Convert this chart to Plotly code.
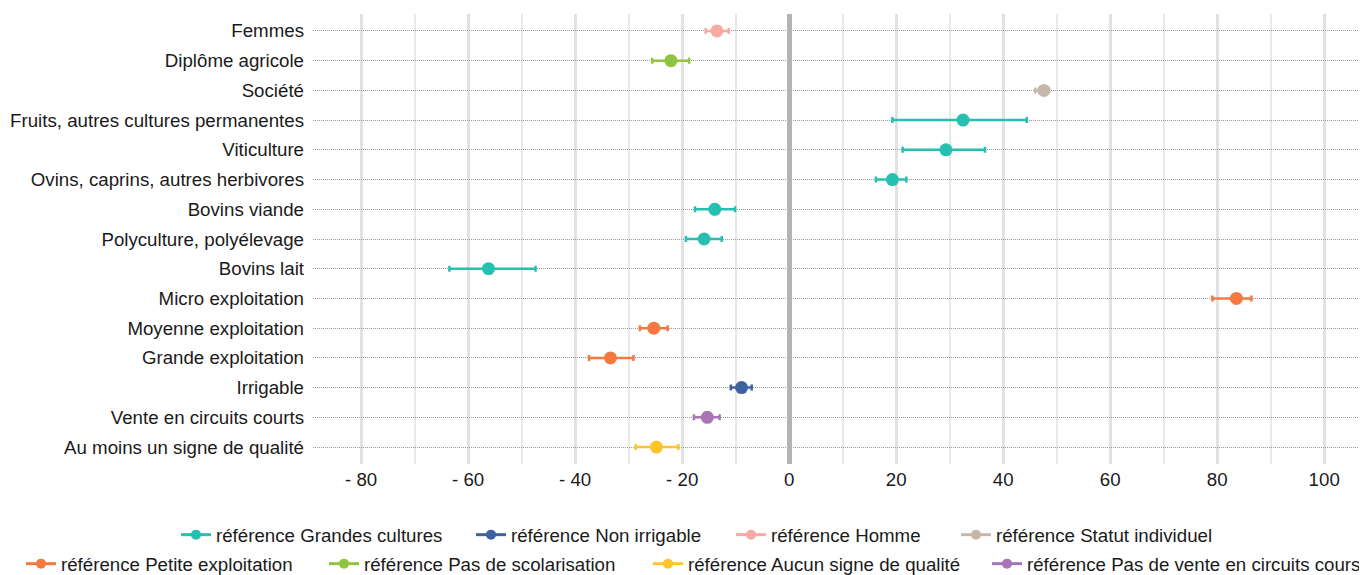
import plotly.graph_objects as go

categories = [
    "Femmes", "Diplôme agricole", "Société",
    "Fruits, autres cultures permanentes", "Viticulture",
    "Ovins, caprins, autres herbivores", "Bovins viande",
    "Polyculture, polyélevage", "Bovins lait", "Micro exploitation",
    "Moyenne exploitation", "Grande exploitation", "Irrigable",
    "Vente en circuits courts", "Au moins un signe de qualité",
]
values = [-13.5, -22.1, 47.6, 32.5, 29.3, 19.3, -13.9, -15.9, -56.2, 83.6,
          -25.3, -33.4, -8.9, -15.3, -24.8]
lower = [-15.6, -25.6, 46.0, 19.3, 21.2, 16.2, -17.6, -19.3, -63.5, 79.1,
         -27.9, -37.4, -10.9, -17.8, -28.7]
upper = [-11.3, -18.7, 48.6, 44.4, 36.6, 21.9, -10.1, -12.6, -47.4, 86.4,
         -22.7, -29.1, -7.0, -13.0, -20.7]
reference = [
    "Homme", "Pas de scolarisation", "Statut individuel",
    "Grandes cultures", "Grandes cultures", "Grandes cultures",
    "Grandes cultures", "Grandes cultures", "Grandes cultures",
    "Petite exploitation", "Petite exploitation", "Petite exploitation",
    "Non irrigable", "Pas de vente en circuits cours", "Aucun signe de qualité",
]
series_row1 = ["Grandes cultures", "Non irrigable", "Homme", "Statut individuel"]
series_row2 = ["Petite exploitation", "Pas de scolarisation",
               "Aucun signe de qualité", "Pas de vente en circuits cours"]
colors = {
    "Grandes cultures": "#27bfb0",
    "Non irrigable": "#3e62a0",
    "Homme": "#f8aaa2",
    "Statut individuel": "#c5b8ab",
    "Petite exploitation": "#f47940",
    "Pas de scolarisation": "#8ec43f",
    "Aucun signe de qualité": "#fdc52b",
    "Pas de vente en circuits cours": "#a875b5",
}
tick_vals = [-80, -60, -40, -20, 0, 20, 40, 60, 80, 100]
tick_text = ["- 80", "- 60", "- 40", "- 20", "0", "20", "40", "60", "80", "100"]

# the page body has an 8px margin, so the figure is drawn 8px in from the corner
OFF = 8
W, H = 1367 - OFF, 575 - OFF
FONT = "Liberation Sans, Arial, sans-serif"
FS = 18.7
fig = go.Figure()

for s in series_row1 + series_row2:
    idx = [i for i, r in enumerate(reference) if r == s]
    xs = [values[i] for i in idx]
    ys = [categories[i] for i in idx]
    plus = [upper[i] - values[i] for i in idx]
    minus = [values[i] - lower[i] for i in idx]
    fig.add_trace(go.Scatter(
        x=xs, y=ys, mode="markers", showlegend=False,
        marker=dict(color=colors[s], size=13),
        error_x=dict(type="data", symmetric=False, array=plus, arrayminus=minus,
                     color=colors[s], thickness=2.5, width=3),
        hoverinfo="x+y",
    ))

# legend entries: one legend per entry, laid out on two rows
legend_text_x_row1 = [216, 511, 771, 996]
legend_text_x_row2 = [61, 364, 688, 1027]
legend_layout = {}
k = 0
for names, xs_px, ypx in [(series_row1, legend_text_x_row1, 535),
                          (series_row2, legend_text_x_row2, 564)]:
    for s, tx in zip(names, xs_px):
        k += 1
        lname = "legend" if k == 1 else f"legend{k}"
        fig.add_trace(go.Scatter(
            x=[None], y=[None], mode="lines+markers", name="référence " + s,
            line=dict(color=colors[s], width=3), marker=dict(color=colors[s], size=10),
            legend=lname,
        ))
        legend_layout[lname] = dict(
            orientation="h", xref="container", yref="container",
            x=(tx - OFF - 40) / W, xanchor="left",
            y=(H - (ypx - OFF)) / H, yanchor="middle",
            font=dict(size=FS), bgcolor="rgba(0,0,0,0)",
        )

fig.update_layout(
    width=W, height=H,
    margin=dict(l=313 - OFF, r=0, t=14 - OFF, b=H - (464 - OFF), autoexpand=False),
    paper_bgcolor="white", plot_bgcolor="white",
    font=dict(family=FONT, size=FS, color="#1a1a1a"),
    xaxis=dict(
        range=[-89, 108], tickvals=tick_vals, ticktext=tick_text,
        showgrid=True, gridcolor="#e2e2e2", gridwidth=2.5,
        minor=dict(dtick=10, tick0=0, showgrid=True, gridcolor="#e8e8e8", gridwidth=1.5),
        zeroline=True, zerolinecolor="#b1b5b5", zerolinewidth=5,
        showline=False, ticks="", ticklabelstandoff=2,
        tickfont=dict(size=FS),
    ),
    yaxis=dict(
        type="category", categoryorder="array", categoryarray=categories,
        range=[14.57, -0.57],
        showgrid=True, gridcolor="#9a9a9a", gridwidth=1, griddash="1px,1px",
        zeroline=False, showline=False, ticks="", ticklabelstandoff=8,
        tickfont=dict(size=FS),
    ),
    **legend_layout,
)

fig.write_html("out.html")
